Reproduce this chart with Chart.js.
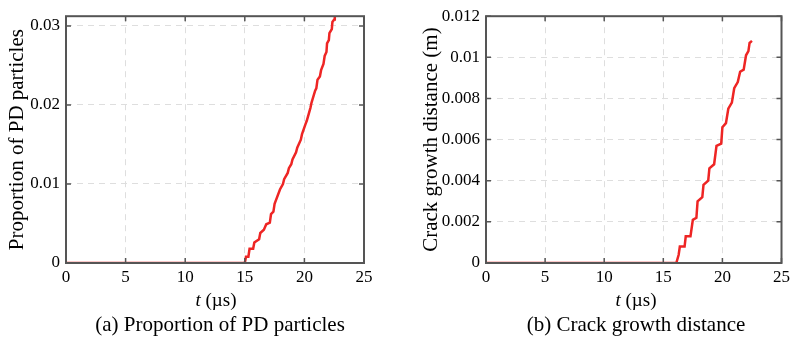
<!DOCTYPE html>
<html>
<head>
<meta charset="utf-8">
<script src="https://cdn.jsdelivr.net/npm/chart.js@4.4.0/dist/chart.umd.min.js"></script>
<style>
  body { margin: 0; background: #fff; width: 794px; height: 346px; position: relative; overflow: hidden; }
  canvas { position: absolute; top: 0; }
  .lbl { position: absolute; font-family: "Liberation Serif", serif; color: #000; white-space: nowrap; transform: translateX(-50%); line-height: 1.15; }
  .tx { font-size: 19px; top: 289px; }
  .cap { font-size: 21px; top: 312px; }
</style>
</head>
<body>
<canvas id="graficoA" width="397" height="346" style="left:0"></canvas>
<canvas id="graficoB" width="397" height="346" style="left:397px"></canvas>
<div class="lbl tx" style="left:216px"><i>t</i> (µs)</div>
<div class="lbl tx" style="left:636px"><i>t</i> (µs)</div>
<div class="lbl cap" style="left:220px">(a) Proportion of PD particles</div>
<div class="lbl cap" style="left:636px">(b) Crack growth distance</div>
<script>
// === DADOS ===
const tempoA = [0, 15.0, 15.1, 15.3, 15.4, 15.7, 15.8, 16.2, 16.3, 16.6, 16.8, 17.1, 17.2, 17.4, 17.5, 17.95, 18.2, 18.3, 18.6, 18.7, 18.9, 19.0, 19.3, 19.4, 19.7, 19.8, 20.1, 20.2, 20.5, 20.6, 20.9, 21.0, 21.1, 21.3, 21.4, 21.6, 21.7, 21.85, 21.9, 22.05, 22.1, 22.3, 22.35, 22.5, 22.55];
const proporcaoPD = [0, 0, 0.0008, 0.0008, 0.0018, 0.0018, 0.0026, 0.003, 0.0038, 0.0042, 0.0049, 0.0051, 0.0062, 0.0065, 0.0075, 0.0093, 0.0100, 0.0106, 0.0114, 0.0120, 0.0125, 0.0131, 0.0140, 0.0146, 0.0156, 0.0163, 0.0176, 0.0180, 0.0196, 0.0203, 0.0218, 0.0221, 0.0232, 0.0236, 0.0244, 0.0252, 0.0262, 0.0267, 0.0278, 0.0282, 0.0291, 0.0296, 0.0305, 0.0308, 0.0312];

const tempoB = [0, 16.1, 16.3, 16.4, 16.8, 16.9, 17.3, 17.5, 17.8, 17.9, 18.3, 18.4, 18.8, 18.9, 19.3, 19.5, 19.9, 20.0, 20.3, 20.5, 20.8, 21.0, 21.3, 21.5, 21.8, 22.0, 22.2, 22.3, 22.5];
const distanciaFenda = [0, 0, 0.0004, 0.0008, 0.0008, 0.0013, 0.0013, 0.0021, 0.0022, 0.0030, 0.0032, 0.0038, 0.0040, 0.0046, 0.0048, 0.0057, 0.0058, 0.0066, 0.0068, 0.0075, 0.0078, 0.0085, 0.0088, 0.0093, 0.0094, 0.0101, 0.0103, 0.0107, 0.0108];

const ticksX = [0, 5, 10, 15, 20, 25];
const ticksA = [0, 0.01, 0.02, 0.03];
const ticksB = [0, 0.002, 0.004, 0.006, 0.008, 0.01, 0.012];

const FONTE = "'Liberation Serif', 'Times New Roman', serif";
const COR_MOLDURA = '#555555';

// moldura estilo MATLAB com ticks para dentro
const molduraPlugin = {
  id: 'moldura',
  afterDatasetsDraw(chart) {
    const { ctx, chartArea: a, scales } = chart;
    const len = 5;
    ctx.save();
    ctx.strokeStyle = COR_MOLDURA;
    ctx.lineWidth = 1.5;
    ctx.beginPath();
    scales.x.ticks.forEach(t => {
      const px = scales.x.getPixelForValue(t.value);
      ctx.moveTo(px, a.bottom); ctx.lineTo(px, a.bottom - len);
      ctx.moveTo(px, a.top); ctx.lineTo(px, a.top + len);
    });
    scales.y.ticks.forEach(t => {
      const py = scales.y.getPixelForValue(t.value);
      ctx.moveTo(a.left, py); ctx.lineTo(a.left + len, py);
      ctx.moveTo(a.right, py); ctx.lineTo(a.right - len, py);
    });
    ctx.stroke();
    ctx.lineWidth = 2;
    ctx.strokeRect(a.left, a.top, a.right - a.left, a.bottom - a.top);
    ctx.restore();
  }
};

function criarGrafico(id, tempo, valores, yMax, yTicks, tituloY, opts) {
  const ctx = document.getElementById(id).getContext('2d');
  return new Chart(ctx, {
    type: 'line',
    data: {
      datasets: [{
        data: tempo.map((t, i) => ({ x: t, y: valores[i] })),
        borderColor: '#ee2524',
        borderWidth: 2.5,
        pointRadius: 0,
        tension: 0,
        fill: false
      }]
    },
    options: {
      responsive: false,
      animation: false,
      devicePixelRatio: 1,
      layout: { padding: { left: 0, right: opts.padRight, top: 10, bottom: 0 } },
      plugins: { legend: { display: false }, tooltip: { enabled: false } },
      scales: {
        x: {
          type: 'linear',
          min: 0,
          max: 25,
          afterBuildTicks: s => { s.ticks = ticksX.map(v => ({ value: v })); },
          afterFit: s => { s.height = 83; },
          grid: { color: '#dedede', lineWidth: 1, drawTicks: false },
          border: { display: false, dash: [6, 5] },
          ticks: { color: '#000', padding: 4, font: { family: FONTE, size: 17 }, maxRotation: 0 }
        },
        y: {
          min: 0,
          max: yMax,
          afterBuildTicks: s => { s.ticks = yTicks.map(v => ({ value: v })); },
          afterFit: s => { s.width = opts.yWidth; },
          grid: { color: '#dedede', lineWidth: 1, drawTicks: false },
          border: { display: false, dash: [6, 5] },
          ticks: { color: '#000', padding: 6, font: { family: FONTE, size: 17 }, callback: v => String(v) },
          title: { display: true, text: tituloY, color: '#000', font: { family: FONTE, size: 21 }, padding: { top: opts.titlePad, bottom: 0 } }
        }
      }
    },
    plugins: [molduraPlugin]
  });
}

criarGrafico('graficoA', tempoA, proporcaoPD, 0.03123, ticksA, 'Proportion of PD particles', { padRight: 33, yWidth: 66, titlePad: 5 });
criarGrafico('graficoB', tempoB, distanciaFenda, 0.012, ticksB, 'Crack growth distance (m)', { padRight: 9, yWidth: 89, titlePad: 22 });
</script>
</body>
</html>
